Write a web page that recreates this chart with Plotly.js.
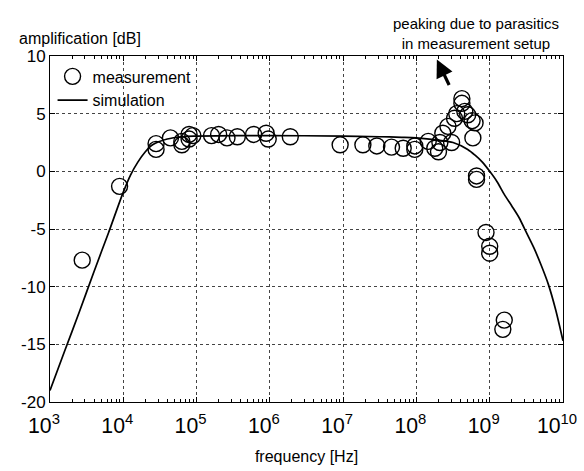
<!DOCTYPE html>
<html>
<head>
<meta charset="utf-8">
<script src="https://cdn.plot.ly/plotly-3.0.1.min.js"></script>
<style>html,body{margin:0;padding:0;background:#fff;}#chart{width:584px;height:471px;}</style>
</head>
<body>
<div id="chart"></div>
<script>
// measurement points (frequency in Hz, amplification in dB)
const measFreq = [2.75e3, 8.9e3, 2.8e4, 2.8e4, 4.4e4, 6.3e4, 6.3e4, 7.9e4, 7.9e4, 8.9e4,
  1.6e5, 2.0e5, 2.6e5, 3.6e5, 6.0e5, 8.9e5, 9.5e5, 1.9e6,
  9.1e6, 1.86e7, 2.88e7, 4.57e7, 6.6e7, 9.5e7, 9.5e7,
  1.45e8, 1.78e8, 2.0e8, 2.09e8, 2.29e8, 2.69e8, 3.02e8, 3.31e8, 3.55e8, 4.17e8, 4.17e8,
  4.57e8, 5.01e8, 5.75e8, 5.89e8, 6.31e8, 6.61e8, 6.61e8, 8.9e8, 1.0e9, 1.0e9, 1.58e9, 1.51e9];
const measGain = [-7.7, -1.3, 2.4, 1.9, 2.9, 2.6, 2.3, 3.2, 2.8, 3.1,
  3.1, 3.2, 2.9, 3.0, 3.2, 3.3, 2.8, 3.0,
  2.3, 2.3, 2.2, 2.1, 2.0, 1.9, 2.2,
  2.6, 2.0, 1.7, 2.5, 3.3, 3.9, 2.5, 4.6, 5.0, 5.9, 6.3,
  5.2, 4.9, 4.4, 2.9, 4.2, -0.4, -0.7, -5.3, -6.5, -7.1, -12.9, -13.7];

// simulation curve
const simFreq = [1e3, 1.58e3, 2.51e3, 3.98e3, 6.31e3, 1e4, 1.26e4, 1.58e4, 2.0e4, 2.51e4, 3.98e4, 6.31e4,
  1e5, 1e6, 1e7, 3.16e7, 6.31e7, 1e8, 2.0e8, 3.16e8, 5.01e8, 6.31e8, 7.94e8,
  1e9, 1.26e9, 1.58e9, 2.0e9, 2.51e9, 3.16e9, 3.98e9, 5.01e9, 6.31e9, 7.94e9, 1e10];
const simGain = [-19.0, -15.6, -12.2, -8.7, -5.3, -1.8, -0.3, 0.8, 1.7, 2.3, 2.8, 3.0,
  3.05, 3.1, 3.05, 3.0, 2.95, 2.9, 2.7, 2.5, 1.9, 1.4, 0.8,
  0.0, -0.9, -2.0, -3.0, -4.0, -5.3, -6.6, -8.1, -9.8, -12.0, -14.7];

const yTicks = [-20, -15, -10, -5, 0, 5, 10];

const font = {family: 'Liberation Sans, Arial, sans-serif', color: '#000'};

const traces = [
  {
    x: measFreq, y: measGain, type: 'scatter', mode: 'markers', name: 'measurement',
    marker: {symbol: 'circle-open', size: 16, color: '#000', line: {width: 1.4, color: '#000'}}
  },
  {
    x: simFreq, y: simGain, type: 'scatter', mode: 'lines', name: 'simulation',
    line: {color: '#000', width: 1.7, shape: 'spline', smoothing: 0.8}
  }
];

const axisCommon = {
  showline: true, linecolor: '#000', linewidth: 1, mirror: 'ticks',
  ticks: 'inside', ticklen: 5, tickcolor: '#000',
  showgrid: true, gridcolor: '#444', griddash: 'dot', gridwidth: 1,
  zeroline: false, tickfont: Object.assign({size: 17}, font)
};

const layout = {
  width: 584, height: 471,
  margin: {l: 50, r: 21, t: 56, b: 69},
  paper_bgcolor: '#fff', plot_bgcolor: '#fff',
  font: Object.assign({size: 15}, font),
  showlegend: true,
  legend: {x: 0.005, y: 0.99, xanchor: 'left', yanchor: 'top', bgcolor: 'rgba(0,0,0,0)',
    font: Object.assign({size: 16}, font), itemwidth: 30, tracegroupgap: 0},
  xaxis: Object.assign({}, axisCommon, {
    type: 'log', range: [3, 10], dtick: 1, exponentformat: 'power',
    ticklabelstandoff: 5, ticklabelshift: -6,
    minor: {dtick: 'D1', ticks: 'inside', ticklen: 3, tickcolor: '#000', showgrid: false},
    title: {text: 'frequency [Hz]', font: Object.assign({size: 16}, font), standoff: 14}
  }),
  yaxis: Object.assign({}, axisCommon, {
    range: [-20, 10], tickvals: yTicks, ticktext: yTicks.map(String)
  }),
  annotations: [
    {text: 'amplification [dB]', xref: 'paper', yref: 'paper', x: -0.065, y: 1,
     xanchor: 'left', yanchor: 'bottom', yshift: 7, showarrow: false, font: Object.assign({size: 16}, font)},
    {text: 'peaking due to parasitics<br>in measurement setup', xref: 'paper', yref: 'paper', x: 0.83, y: 1,
     xanchor: 'center', yanchor: 'bottom', yshift: 2, showarrow: false, font: Object.assign({size: 15}, font)},
    {text: '', xref: 'x', yref: 'y', x: Math.log10(1.9e8), y: 9.7, ax: 13, ay: 27,
     showarrow: true, arrowhead: 2, arrowsize: 1.1, arrowwidth: 3.2, arrowcolor: '#000'}
  ]
};

Plotly.newPlot('chart', traces, layout, {displayModeBar: false, staticPlot: true});
</script>
</body>
</html>
